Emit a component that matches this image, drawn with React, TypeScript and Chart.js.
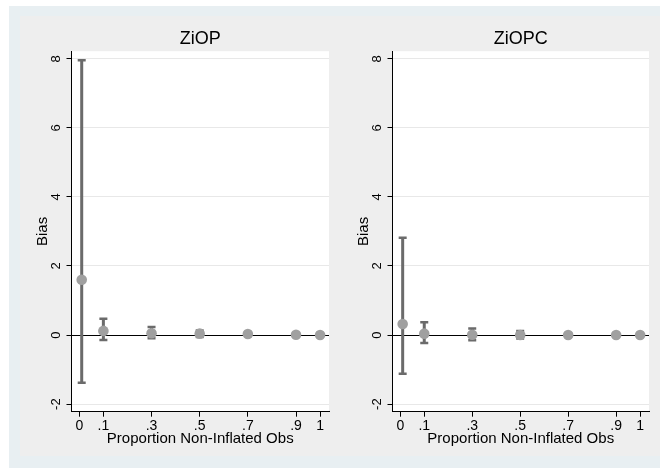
import React, { useEffect, useRef } from 'react';
import { Chart, registerables } from 'chart.js';
Chart.register(...registerables);

const proportions = [0.01, 0.1, 0.3, 0.5, 0.7, 0.9, 1.0];
const ziopMean = [1.6, 0.12, 0.05, 0.04, 0.03, 0.01, 0.0];
const ziopHigh = [7.96, 0.47, 0.23, 0.13, 0.08, 0.03, 0.01];
const ziopLow = [-1.38, -0.14, -0.09, -0.06, -0.03, -0.01, -0.01];
const ziopcMean = [0.32, 0.04, 0.01, 0.0, 0.0, 0.0, 0.0];
const ziopcHigh = [2.82, 0.37, 0.19, 0.12, 0.05, 0.02, 0.01];
const ziopcLow = [-1.12, -0.23, -0.15, -0.1, -0.05, -0.02, -0.01];
const xTickValues = [0, 0.1, 0.3, 0.5, 0.7, 0.9, 1];
const xTickLabels = ['0', '.1', '.3', '.5', '.7', '.9', '1'];
const yTickValues = [-2, 0, 2, 4, 6, 8];
const yTickLabels = ['-2', '0', '2', '4', '6', '8'];
const xTitle = 'Proportion Non-Inflated Obs';
const yTitle = 'Bias';

const FONT = "'Liberation Sans', Arial, Helvetica, sans-serif";

type PanelProps = {
  title: string;
  mean: number[];
  high: number[];
  low: number[];
  left: number;
  width: number;
};

function Panel({ title, mean, high, low, left, width }: PanelProps) {
  const ref = useRef<HTMLCanvasElement | null>(null);
  useEffect(() => {
    if (!ref.current) return;
    const decor = {
      id: 'decor',
      beforeDraw(chart: any) {
        const { ctx, chartArea } = chart;
        ctx.save();
        ctx.fillStyle = '#ffffff';
        ctx.fillRect(chartArea.left, chartArea.top, chartArea.right - chartArea.left, chartArea.bottom - chartArea.top);
        ctx.restore();
      },
      beforeDatasetsDraw(chart: any) {
        const { ctx, chartArea, scales } = chart;
        const xs = scales.x;
        const ys = scales.y;
        ctx.save();
        const y0 = Math.round(ys.getPixelForValue(0)) + 0.5;
        ctx.strokeStyle = '#000000';
        ctx.lineWidth = 1;
        ctx.beginPath();
        ctx.moveTo(chartArea.left, y0);
        ctx.lineTo(chartArea.right, y0);
        ctx.stroke();
        ctx.strokeStyle = '#6b6b6b';
        for (let i = 0; i < proportions.length; i++) {
          const x = xs.getPixelForValue(proportions[i]);
          const yh = ys.getPixelForValue(high[i]);
          const yl = ys.getPixelForValue(low[i]);
          ctx.lineWidth = 3;
          ctx.beginPath();
          ctx.moveTo(x, yh);
          ctx.lineTo(x, yl);
          ctx.stroke();
          ctx.lineWidth = 2.5;
          ctx.beginPath();
          ctx.moveTo(x - 4, yh);
          ctx.lineTo(x + 4, yh);
          ctx.moveTo(x - 4, yl);
          ctx.lineTo(x + 4, yl);
          ctx.stroke();
        }
        ctx.restore();
      },
      afterDraw(chart: any) {
        const { ctx, chartArea, scales } = chart;
        const ys = scales.y;
        ctx.save();
        ctx.fillStyle = '#000000';
        ctx.font = `13px ${FONT}`;
        ctx.textAlign = 'center';
        ctx.textBaseline = 'middle';
        for (let i = 0; i < yTickValues.length; i++) {
          const y = ys.getPixelForValue(yTickValues[i]);
          ctx.save();
          ctx.translate(chartArea.left - 15, y);
          ctx.rotate(-Math.PI / 2);
          ctx.fillText(yTickLabels[i], 0, 0);
          ctx.restore();
        }
        ctx.restore();
      },
    };
    const chart = new Chart(ref.current, {
      type: 'scatter',
      data: {
        datasets: [
          {
            data: proportions.map((p, i) => ({ x: p, y: mean[i] })),
            pointRadius: 5.3,
            pointHoverRadius: 5.3,
            pointBackgroundColor: '#a0a0a0',
            pointBorderWidth: 0,
            showLine: false,
          },
        ],
      },
      options: {
        responsive: false,
        animation: false,
        events: [],
        layout: { padding: { left: 0, right: 11, top: 0, bottom: 0 } },
        plugins: {
          legend: { display: false },
          tooltip: { enabled: false },
          title: {
            display: true,
            text: title,
            fullSize: false,
            color: '#000000',
            font: { family: FONT, size: 18, weight: 'normal' },
            padding: { top: 12, bottom: 1.6 },
          },
        },
        scales: {
          x: {
            type: 'linear',
            min: -0.0324,
            max: 1.037,
            afterBuildTicks: (s: any) => {
              s.ticks = xTickValues.map((v) => ({ value: v }));
            },
            afterFit: (s: any) => {
              s.height = 44.3;
            },
            ticks: {
              autoSkip: false,
              maxRotation: 0,
              minRotation: 0,
              padding: 1,
              color: '#000000',
              font: { family: FONT, size: 14 },
              callback: (_v: any, i: number) => xTickLabels[i],
            },
            grid: {
              drawOnChartArea: false,
              drawTicks: true,
              tickLength: 5,
              tickColor: '#000000',
            },
            border: { display: true, color: '#000000', width: 1 },
            title: {
              display: true,
              text: xTitle,
              color: '#000000',
              font: { family: FONT, size: 15 },
              padding: { top: 0, bottom: 8 },
            },
          },
          y: {
            type: 'linear',
            min: -2.22,
            max: 8.22,
            afterBuildTicks: (s: any) => {
              s.ticks = yTickValues.map((v) => ({ value: v }));
            },
            afterFit: (s: any) => {
              s.width = 51.5;
            },
            ticks: {
              color: 'rgba(0,0,0,0)',
              font: { family: FONT, size: 12 },
              callback: (_v: any, i: number) => yTickLabels[i],
            },
            grid: {
              color: '#e8e8e8',
              lineWidth: 1,
              drawTicks: true,
              tickLength: 5,
              tickColor: '#000000',
            },
            border: { display: true, color: '#000000', width: 1 },
            title: {
              display: true,
              text: yTitle,
              color: '#000000',
              font: { family: FONT, size: 15 },
              padding: { top: 13.5, bottom: 0 },
            },
          },
        },
      },
      plugins: [decor],
    } as any);
    return () => chart.destroy();
  }, [title, mean, high, low]);
  return (
    <canvas
      ref={ref}
      width={width}
      height={440}
      style={{ position: 'absolute', left, top: 16, width, height: 440, display: 'block' }}
    />
  );
}

export default function App() {
  return (
    <div style={{ position: 'absolute', left: 0, top: 0, width: 660, height: 468, background: '#ffffff', overflow: 'hidden' }}>
      <div style={{ position: 'absolute', left: 9, top: 6, width: 651, height: 462, background: '#e8eff2' }} />
      <div style={{ position: 'absolute', left: 20, top: 16, width: 640, height: 440, background: '#eeeeee' }} />
      <Panel title="ZiOP" mean={ziopMean} high={ziopHigh} low={ziopLow} left={20} width={320} />
      <Panel title="ZiOPC" mean={ziopcMean} high={ziopcHigh} low={ziopcLow} left={341} width={319} />
    </div>
  );
}
